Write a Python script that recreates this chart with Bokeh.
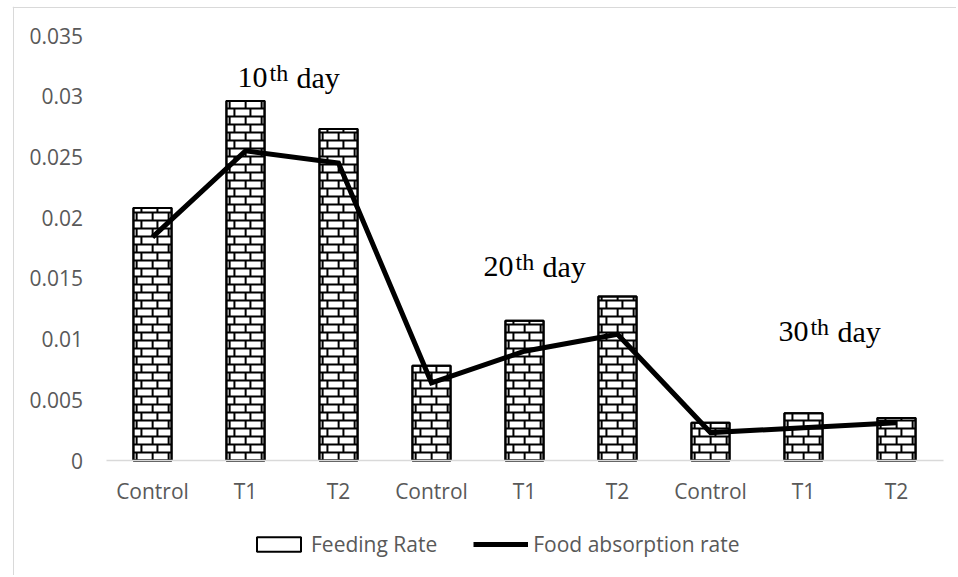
from bokeh.plotting import figure
from bokeh.models import Range1d, FixedTicker, Legend, LegendItem, Label
from bokeh.embed import file_html
from bokeh.resources import INLINE

# ---- data ----
categories = ["Control", "T1", "T2", "Control", "T1", "T2", "Control", "T1", "T2"]
feeding_rate = [0.0208, 0.0296, 0.0273, 0.0078, 0.0115, 0.0135, 0.0031, 0.0039, 0.0035]
absorption_rate = [0.0184, 0.0255, 0.0245, 0.0064, 0.0090, 0.0104, 0.0023, 0.0027, 0.0031]
y_ticks = [0, 0.005, 0.01, 0.015, 0.02, 0.025, 0.03, 0.035]
y_tick_labels = ["0", "0.005", "0.01", "0.015", "0.02", "0.025", "0.03", "0.035"]
day_numbers = ["10", "20", "30"]
day_anchor_x = [1.914, 4.559, 7.73]
day_anchor_y = [0.03063, 0.01507, 0.0097]

n = len(categories)
xs = list(range(1, n + 1))

FONT = "Open Sans"
GREY = "#595959"
FS = "21px"

# ---- layout (pixels) ----
W, H = 956, 575
FRAME_L, FRAME_T = 12, 6          # chart-area border position
PLOT_L, PLOT_R = 105.5, 942.5     # plot-area x extent
PLOT_T, PLOT_B = 35, 460          # pixel rows of y=0.035 and y=0
Y_MAX = 0.035
px_per_x = (PLOT_R - PLOT_L) / n
px_per_y = (PLOT_B - PLOT_T) / Y_MAX
x_start = 0.5 - (PLOT_L - FRAME_L) / px_per_x
x_end = 0.5 + (W - PLOT_L) / px_per_x
y_end = Y_MAX + (PLOT_T - FRAME_T) / px_per_y
y_start = -(H - PLOT_B) / px_per_y

p = figure(width=W, height=H, output_backend="svg", toolbar_location=None,
           x_range=Range1d(x_start, x_end), y_range=Range1d(y_start, y_end),
           min_border_left=FRAME_L, min_border_right=0, min_border_top=FRAME_T,
           min_border_bottom=0)
p.outline_line_color = None
p.xgrid.visible = False
p.ygrid.visible = False
p.background_fill_color = "white"
p.border_fill_color = "white"

# chart-area border (left and top edges)
p.vspan(x=[x_start + 0.5 / px_per_x], line_color="#d9d9d9", line_width=1)
p.hspan(y=[y_end - 0.5 / px_per_y], line_color="#d9d9d9", line_width=1)

BAR_W = 0.41
bars = p.vbar(x=xs, top=feeding_rate, width=BAR_W, fill_color="white",
              line_color="black", line_width=2)

# brick texture built from each bar's extent (8px courses, 16px bricks)
row_h = 8 / px_per_y
brick_w = 16 / px_per_x
hw = BAR_W / 2
sx0, sy0, sx1, sy1 = [], [], [], []
for xc, top in zip(xs, feeding_rate):
    left, right = xc - hw, xc + hw
    k = 0
    while k * row_h < top:
        yb = k * row_h
        yt = min((k + 1) * row_h, top)
        if k > 0:
            sx0.append(left); sx1.append(right); sy0.append(yb); sy1.append(yb)
        off = (brick_w / 2) if k % 2 else (brick_w * 0.2)
        jx = left + off
        while jx < right - 0.01:
            sx0.append(jx); sx1.append(jx); sy0.append(yb); sy1.append(yt)
            jx += brick_w
        k += 1
p.segment(x0=sx0, y0=sy0, x1=sx1, y1=sy1, line_color="black", line_width=2)
p.vbar(x=xs, top=feeding_rate, width=BAR_W, fill_color=None,
       line_color="black", line_width=2)

line = p.line(x=xs, y=absorption_rate, line_color="black", line_width=5,
              line_join="miter")

# axes (fixed inside the frame so that the chart border can span the canvas)
p.xaxis.fixed_location = 0
p.xaxis.bounds = (0.5, n + 0.5)
p.xaxis.ticker = FixedTicker(ticks=xs)
p.xaxis.major_label_overrides = {x: c for x, c in zip(xs, categories)}
p.xaxis.axis_line_color = "#d9d9d9"
p.xaxis.axis_line_width = 1.5
p.xaxis.major_tick_line_color = None
p.xaxis.minor_tick_line_color = None
p.xaxis.major_label_standoff = 10
p.xaxis.major_label_text_font = FONT
p.xaxis.major_label_text_font_size = FS
p.xaxis.major_label_text_color = GREY

p.yaxis.fixed_location = 0.5
p.yaxis.bounds = (0, Y_MAX)
p.yaxis.ticker = FixedTicker(ticks=y_ticks)
p.yaxis.major_label_overrides = {t: l for t, l in zip(y_ticks, y_tick_labels)}
p.yaxis.axis_line_color = None
p.yaxis.major_tick_line_color = None
p.yaxis.minor_tick_line_color = None
p.yaxis.major_label_standoff = 17
p.yaxis.major_label_text_font = FONT
p.yaxis.major_label_text_font_size = FS
p.yaxis.major_label_text_color = GREY

# day annotations
for num, ax, ay in zip(day_numbers, day_anchor_x, day_anchor_y):
    p.add_layout(Label(x=ax, y=ay, y_offset=11, text=num, text_font="Liberation Serif",
                       text_font_size="30px", text_color="black",
                       text_baseline="alphabetic"))
    p.add_layout(Label(x=ax, y=ay, x_offset=32, y_offset=16, text="th",
                       text_font="Liberation Serif", text_font_size="24px",
                       text_color="black", text_baseline="alphabetic"))
    p.add_layout(Label(x=ax, y=ay, x_offset=59, y_offset=11, text="day",
                       text_font="Liberation Serif", text_font_size="30px",
                       text_color="black", text_baseline="alphabetic"))

legend = Legend(items=[LegendItem(label="Feeding Rate", renderers=[bars]),
                       LegendItem(label="Food absorption rate", renderers=[line])],
                orientation="horizontal", location=(239, 17),
                glyph_width=55, glyph_height=18, label_standoff=5, spacing=36,
                label_text_font=FONT, label_text_font_size=FS,
                label_text_color=GREY, border_line_color=None,
                background_fill_alpha=0, padding=0, margin=0)
p.add_layout(legend, "center")

open("out.html", "w").write(file_html(p, INLINE))
